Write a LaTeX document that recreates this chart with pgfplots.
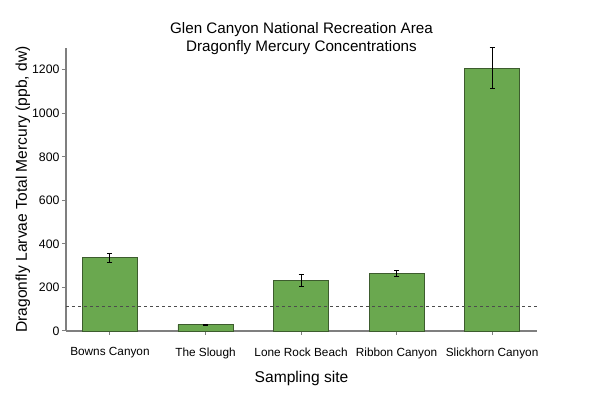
\documentclass[border=0pt]{standalone}
\usepackage{pgfplots}
\pgfplotsset{compat=1.18}
\usepackage{fontspec}
\setmainfont{Liberation Sans}
\definecolor{barfill}{HTML}{6AA84F}
\definecolor{baredge}{HTML}{3D5C2E}
\definecolor{axgray}{HTML}{7F7F7F}
\begin{document}
\begin{tikzpicture}
\begin{axis}[
  at={(0,0)}, anchor=south west,
  scale only axis, width=471pt, height=283pt,
  xmin=-0.46, xmax=4.47, ymin=0, ymax=1300,
  axis x line*=bottom, axis y line*=left,
  axis line style={axgray, line width=1.2pt},
  xtick={0,1,2,3,4},
  xticklabels={Bowns Canyon, The Slough, Lone Rock Beach, Ribbon Canyon, Slickhorn Canyon},
  ytick={0,200,400,600,800,1000,1200},
  tick style={axgray, line width=1pt},
  tick align=outside, major tick length=4pt,
  xticklabel style={font=\fontsize{11.8}{13}\selectfont, yshift=-9pt},
  yticklabel style={font=\fontsize{12.3}{13}\selectfont, xshift=1pt},
  /pgf/number format/assume math mode=true,
  /pgf/number format/1000 sep={},
  xlabel={Sampling site},
  ylabel={Dragonfly Larvae Total Mercury (ppb, dw)},
  label style={font=\fontsize{15.6}{17}\selectfont},
  xlabel style={yshift=-6pt},
  ylabel style={yshift=-5pt},
  clip=false,
]
\addplot[ybar, bar width=55pt, fill=barfill, draw=baredge, line width=0.8pt,
  error bars/.cd, y dir=both, y explicit,
  error bar style={black, line width=0.9pt},
  error mark options={rotate=90, mark size=2.5pt, black, line width=0.9pt}]
  coordinates {
  (0,337) +- (0,21)
  (1,29) +- (0,3)
  (2,233) +- (0,29)
  (3,263) +- (0,13)
  (4,1208) +- (0,94)
  };
\addplot[dashed, black!70, line width=0.8pt] coordinates {(-0.46,115) (4.47,115)};
\node[font=\fontsize{15.2}{17}\selectfont, anchor=base] at (rel axis cs:0.5,1) [yshift=14pt] {Glen Canyon National Recreation Area};
\node[font=\fontsize{15.2}{17}\selectfont, anchor=base] at (rel axis cs:0.5,1) [yshift=-4pt] {Dragonfly Mercury Concentrations};
\end{axis}
\path[use as bounding box] (-66pt,-67pt) rectangle (534pt,331pt);
\end{tikzpicture}
\end{document}
